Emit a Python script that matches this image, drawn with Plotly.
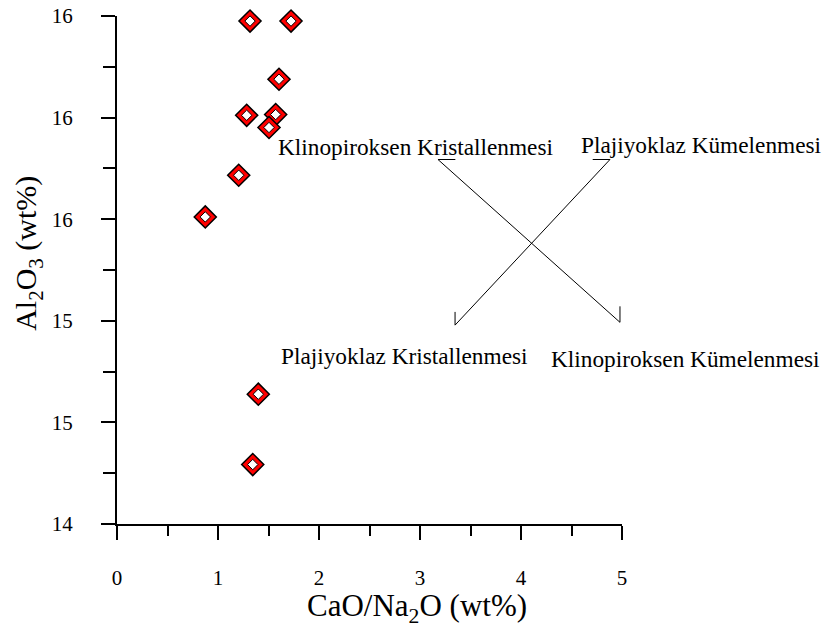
import plotly.graph_objects as go

# data
cao_na2o = [1.317, 1.723, 1.604, 1.284, 1.571, 1.505, 1.205, 0.874, 1.399, 1.344]
al2o3 = [16.380, 16.380, 16.151, 16.009, 16.012, 15.961, 15.773, 15.609, 14.911, 14.634]

x_title = "CaO/Na<sub>2</sub>O (wt%)"
y_title = "Al<sub>2</sub>O<sub>3</sub> (wt%)"
trend_labels = ["Klinopiroksen Kristallenmesi", "Plajiyoklaz Kümelenmesi",
                "Plajiyoklaz Kristallenmesi", "Klinopiroksen Kümelenmesi"]

FONT = "Liberation Serif"

fig = go.Figure()
fig.add_trace(go.Scatter(
    x=cao_na2o, y=al2o3, mode="markers", cliponaxis=False,
    marker=dict(symbol="diamond", size=17, color="#ff0000",
                line=dict(color="black", width=1.5)),
    hoverinfo="skip", showlegend=False))
fig.add_trace(go.Scatter(
    x=cao_na2o, y=al2o3, mode="markers", cliponaxis=False,
    marker=dict(symbol="diamond", size=8, color="white",
                line=dict(color="black", width=1)),
    hoverinfo="skip", showlegend=False))

# trend arrows (X shape)
line_style = dict(color="black", width=1)
segs = [
    # Klinopiroksen line: upper-left -> lower-right
    (3.178, 15.835, 4.98, 15.194),
    (3.178, 15.835, 3.35, 15.835),
    (4.98, 15.194, 4.98, 15.257),
    # Plajiyoklaz line: lower-left -> upper-right
    (3.347, 15.183, 4.881, 15.835),
    (4.881, 15.835, 4.71, 15.835),
    (3.347, 15.183, 3.347, 15.235),
]
for x0, y0, x1, y1 in segs:
    fig.add_shape(type="line", x0=x0, y0=y0, x1=x1, y1=y1, xref="x", yref="y",
                  line=line_style)

ann_pos = [(1.570, 15.885), (4.578, 15.891), (1.603, 15.062), (4.277, 15.050)]
for (ax, ay), t in zip(ann_pos, trend_labels):
    fig.add_annotation(x=ax, y=ay, xref="x", yref="y", text=t, showarrow=False,
                       xanchor="left", yanchor="middle",
                       font=dict(family=FONT, size=23.3, color="black"))

fig.add_annotation(x=0.594, y=-0.166, xref="paper", yref="paper", text=x_title,
                   showarrow=False, xanchor="center", yanchor="middle",
                   font=dict(family=FONT, size=31, color="black"))
fig.add_annotation(x=-0.176, y=0.532, xref="paper", yref="paper", text=y_title,
                   showarrow=False, xanchor="center", yanchor="middle", textangle=-90,
                   font=dict(family=FONT, size=30, color="black"))

axis_common = dict(showline=True, linecolor="black", linewidth=2, showgrid=False,
                   zeroline=False, ticks="outside", tickcolor="black", tickwidth=2,
                   ticklen=14, tickfont=dict(family=FONT, size=21, color="black"),
                   mirror=False, fixedrange=True, automargin=False)

fig.update_layout(
    width=827, height=630,
    margin=dict(l=117, r=205, t=16, b=106, autoexpand=False),
    paper_bgcolor="white", plot_bgcolor="white",
    xaxis=dict(range=[0, 5], tick0=0, dtick=1, ticklabelstandoff=20,
               minor=dict(ticks="outside", dtick=0.5, ticklen=10, tickwidth=2,
                          tickcolor="black", showgrid=False),
               **axis_common),
    yaxis=dict(range=[14.4, 16.4], tick0=14.4, dtick=0.4, tickformat=".0f",
               ticklabelstandoff=24,
               minor=dict(ticks="outside", dtick=0.2, ticklen=12, tickwidth=2,
                          tickcolor="black", showgrid=False),
               **axis_common),
)

fig.write_html("out.html")
